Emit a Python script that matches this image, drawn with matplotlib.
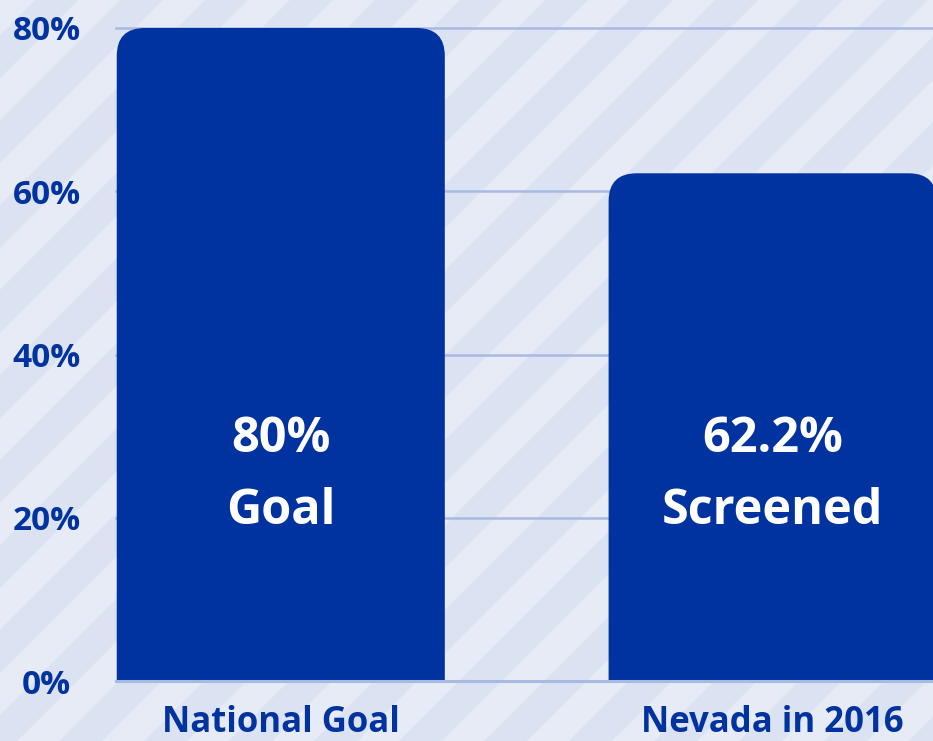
import matplotlib
matplotlib.use("Agg")
import matplotlib.pyplot as plt
from matplotlib.patches import FancyBboxPatch, Polygon

plt.rcParams['font.family'] = ['Open Sans', 'DejaVu Sans']

categories = ["National Goal", "Nevada in 2016"]
values = [80, 62.2]
bar_labels = ["80%\nGoal", "62.2%\nScreened"]
yticks = [0, 20, 40, 60, 80]
ytick_labels = ["0%", "20%", "40%", "60%", "80%"]

W, H = 933, 741
BLUE = "#0033a0"
GRID = "#a9bae2"
LIGHT = "#e6ebf6"
DARK = "#dbe2f1"

fig = plt.figure(figsize=(W / 100, H / 100), dpi=100)
fig.patch.set_facecolor(LIGHT)

# striped background
bg = fig.add_axes([0, 0, 1, 1], zorder=0)
bg.set_xlim(0, W)
bg.set_ylim(H, 0)
bg.axis("off")
period, half, c0 = 85, 43, 715 % 85
c = c0 - 2 * period
while c < W + H + period:
    bg.add_patch(Polygon([(c, 0), (c + half, 0), (c + half - H, H), (c - H, H)],
                         closed=True, facecolor=DARK, edgecolor="none"))
    c += period

left_px, right_px, top_px, bot_px = 116, 933, 28, 681
ax = fig.add_axes([left_px / W, (H - bot_px) / H, (right_px - left_px) / W,
                   (bot_px - top_px) / H], zorder=1)
ax.patch.set_alpha(0)
x = list(range(len(categories)))
bars = ax.bar(x, values, width=0.667, color=BLUE, zorder=2)
ax.set_xlim(-0.335, 1.326)
ax.set_ylim(0, 80)

# replace bars with rounded-top versions
fig.canvas.draw()
xppu = ax.transData.transform((1, 0))[0] - ax.transData.transform((0, 0))[0]
yppu = ax.transData.transform((0, 1))[1] - ax.transData.transform((0, 0))[1]
aspect = xppu / yppu
r = 28 / xppu
for b in bars:
    bx, bw, bh = b.get_x(), b.get_width(), b.get_height()
    b.set_visible(False)
    p = FancyBboxPatch((bx, -20), bw, bh + 20,
                       boxstyle=f"round,pad=0,rounding_size={r}",
                       mutation_aspect=aspect, facecolor=BLUE, edgecolor="none",
                       zorder=2, clip_on=True)
    ax.add_patch(p)

for yv in yticks[1:]:
    ax.axhline(yv, color=GRID, lw=1.8, zorder=1, clip_on=False)
ax.axhline(0, color=GRID, lw=2.2, zorder=3, clip_on=False)

for xi, lab in zip(x, bar_labels):
    ax.text(xi, 25.2, lab, ha="center", va="center", color="white",
            fontsize=35, fontweight="bold", linespacing=1.62, zorder=4)

for s in ax.spines.values():
    s.set_visible(False)
ax.set_yticks(yticks)
ax.set_yticklabels(ytick_labels, fontsize=24, fontweight="bold", color=BLUE, ha="center")
ax.set_xticks(x)
ax.set_xticklabels(categories, fontsize=25, fontweight="bold", color=BLUE)
ax.tick_params(axis="y", length=0, pad=50)
ax.tick_params(axis="x", length=0, pad=17)

fig.savefig("out.png", dpi=100, facecolor=fig.get_facecolor())
